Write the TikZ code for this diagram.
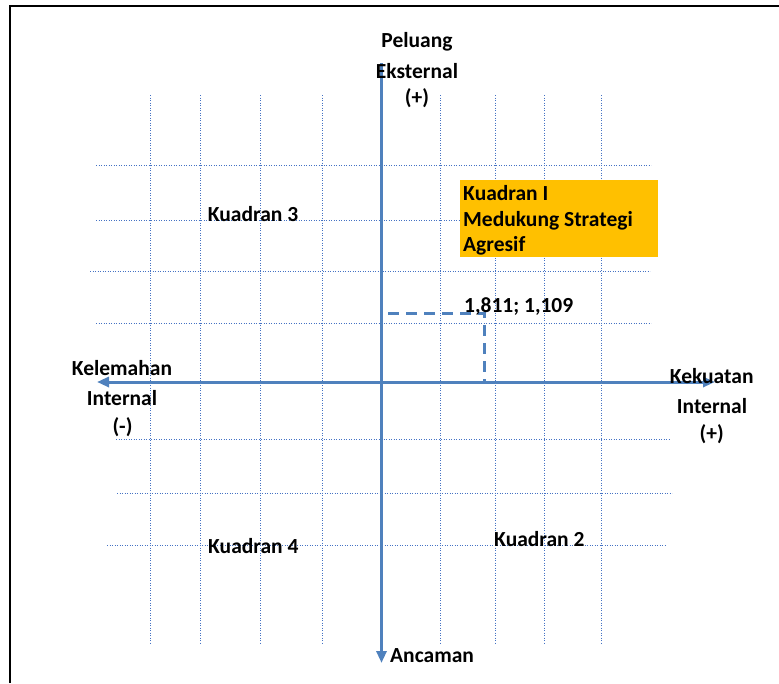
\documentclass[tikz,border=0pt]{standalone}
\usepackage{fontspec}
\setmainfont{Carlito}
\usetikzlibrary{arrows.meta}
\definecolor{axisblue}{RGB}{79,129,189}
\definecolor{gridblue}{RGB}{68,114,196}
\definecolor{boxorange}{RGB}{255,192,0}
\begin{document}
\begin{tikzpicture}[x=1pt,y=-1pt,
  lbl/.style={font=\fontsize{21.5}{25}\selectfont\bfseries, inner sep=0pt},
  gridline/.style={gridblue, line width=0.9pt, dash pattern=on 0.9pt off 1.6pt},
  axisline/.style={axisblue, line width=3pt},
  axtip/.style={-{Triangle[length=12pt,width=10pt]}},
  guide/.style={axisblue, line width=3pt, dash pattern=on 11pt off 7pt},
  framel/.style={black, line width=1.6pt}]
\useasboundingbox (0,0) rectangle (779,683);
% frame (left and top only visible)
\coordinate (fbl) at (10,683);
\coordinate (ftl) at (10,6);
\coordinate (ftr) at (779,6);
\draw[framel] (fbl) -- (ftl) -- (ftr);
% vertical grid lines
\foreach \gx in {150.5,200,260,322,440,495,544,601}{
  \draw[gridline] (\gx,95) -- (\gx,643);
}
% horizontal grid lines
\draw[gridline] (96,165.7) -- (651,165.7);
\draw[gridline] (96,220.7) -- (651,220.7);
\draw[gridline] (90,271.7) -- (650,271.7);
\draw[gridline] (96,323.5) -- (651,323.5);
\draw[gridline] (116,439) -- (670,439);
\draw[gridline] (117,493) -- (672,493);
\draw[gridline] (107,545) -- (665,545);
% axes
\coordinate (vtop) at (381.5,63);
\coordinate (vbot) at (381.5,663);
\coordinate (hleft) at (97,382);
\coordinate (hright) at (715,382);
\draw[axisline,axtip] (vtop) -- (vbot);
\draw[axisline,{Triangle[length=12pt,width=10pt]}-{Triangle[length=12pt,width=10pt]}] (hleft) -- (hright);
% dashed guide to the point
\coordinate (dstart) at (388,313.3);
\coordinate (pt) at (484,313.3);
\coordinate (dfoot) at (484,381);
\draw[guide] (dstart) -- (pt) -- (dfoot);
% orange box
\node[fill=boxorange, minimum width=198pt, minimum height=77pt, anchor=north west, inner sep=0pt] (box) at (460,180) {};
\node[lbl, anchor=base west] (k1a) at (463,200) {Kuadran I};
\node[lbl, anchor=base west] (k1b) at (463,226.7) {Medukung Strategi};
\node[lbl, anchor=base west] (k1c) at (463,251.7) {Agresif};
% point label
\node[lbl, anchor=base west] (ptlbl) at (464,312) {1,811; 1,109};
% quadrant labels
\node[lbl, anchor=base west] (k3) at (207.7,221.7) {Kuadran 3};
\node[lbl, anchor=base west] (k4) at (208,553) {Kuadran 4};
\node[lbl, anchor=base west] (k2) at (494,546) {Kuadran 2};
% axis labels
\node[lbl, anchor=base] (pel1) at (417,47) {Peluang};
\node[lbl, anchor=base] (pel2) at (417,78) {Eksternal};
\node[lbl, anchor=base] (pel3) at (417,104) {(+)};
\node[lbl, anchor=base] (kel1) at (122,375) {Kelemahan};
\node[lbl, anchor=base] (kel2) at (122,405) {Internal};
\node[lbl, anchor=base] (kel3) at (122.5,433) {(-)};
\node[lbl, anchor=base] (kek1) at (711.7,383) {Kekuatan};
\node[lbl, anchor=base] (kek2) at (712,413) {Internal};
\node[lbl, anchor=base] (kek3) at (711.7,440) {(+)};
\node[lbl, anchor=base west] (anc) at (390,662) {Ancaman};
\end{tikzpicture}
\end{document}
